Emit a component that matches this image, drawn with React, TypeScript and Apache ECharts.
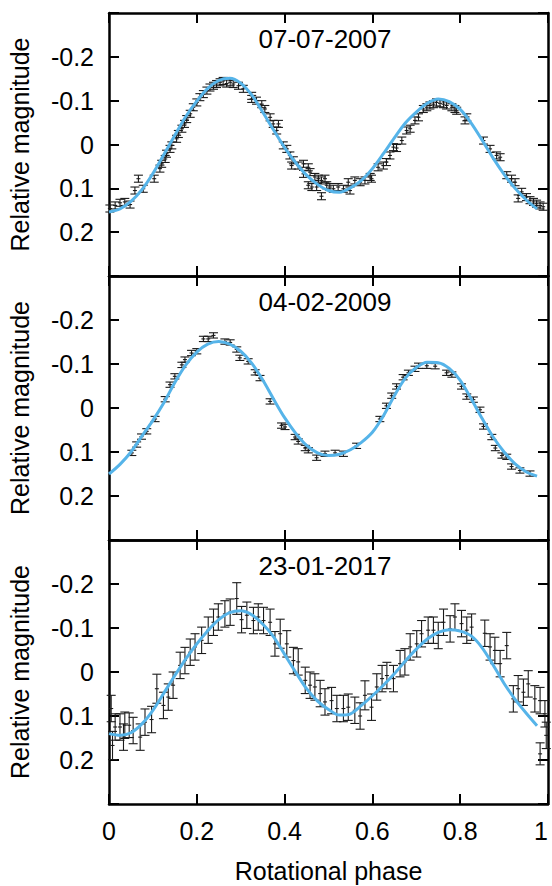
import React, { useEffect, useRef } from "react";
import * as echarts from "echarts";

const TITLES = ["07-07-2007", "04-02-2009", "23-01-2017"];
const X_LABEL = "Rotational phase";
const Y_LABEL = "Relative magnitude";

// Panel 1 observations [phase, mag]
const obs2007: number[][] = [
  [0.002, 0.146], [0.014, 0.139], [0.025, 0.133], [0.036, 0.131], [0.048, 0.137], [0.059, 0.105],
  [0.067, 0.078], [0.078, 0.101], [0.103, 0.078], [0.116, 0.055], [0.12, 0.044], [0.128, 0.033],
  [0.131, 0.021], [0.139, 0.01], [0.143, 0.002], [0.154, -0.013], [0.158, -0.024], [0.166, -0.036],
  [0.172, -0.047], [0.177, -0.058], [0.185, -0.07], [0.192, -0.085], [0.2, -0.096], [0.207, -0.108],
  [0.215, -0.115], [0.223, -0.123], [0.23, -0.13], [0.238, -0.134], [0.245, -0.138], [0.253, -0.142],
  [0.26, -0.145], [0.268, -0.139], [0.276, -0.142], [0.283, -0.138], [0.295, -0.134], [0.306, -0.127],
  [0.325, -0.104], [0.325, -0.111], [0.336, -0.1], [0.348, -0.092], [0.355, -0.081], [0.367, -0.062],
  [0.374, -0.047], [0.386, -0.047], [0.382, -0.032], [0.397, 0.002], [0.405, 0.01], [0.412, 0.025],
  [0.42, 0.036], [0.416, 0.048], [0.431, 0.048], [0.443, 0.044], [0.454, 0.052], [0.443, 0.067],
  [0.458, 0.063], [0.469, 0.074], [0.477, 0.078], [0.484, 0.082], [0.492, 0.078], [0.454, 0.093],
  [0.462, 0.097], [0.473, 0.097], [0.484, 0.118], [0.496, 0.093], [0.503, 0.097], [0.511, 0.101],
  [0.522, 0.097], [0.534, 0.101], [0.545, 0.086], [0.549, 0.105], [0.56, 0.082], [0.572, 0.086],
  [0.583, 0.082], [0.595, 0.074], [0.598, 0.078], [0.613, 0.052], [0.625, 0.048], [0.632, 0.04],
  [0.64, 0.025], [0.648, 0.006], [0.655, 0.008], [0.667, -0.009], [0.678, -0.032], [0.686, -0.036],
  [0.697, -0.055], [0.705, -0.062], [0.716, -0.081], [0.724, -0.085], [0.731, -0.089], [0.739, -0.092],
  [0.746, -0.096], [0.754, -0.094], [0.762, -0.092], [0.769, -0.089], [0.781, -0.085], [0.788, -0.081],
  [0.792, -0.077], [0.815, -0.062], [0.811, -0.055], [0.853, -0.009], [0.868, 0.01], [0.883, 0.025],
  [0.891, 0.029], [0.906, 0.07], [0.917, 0.078], [0.925, 0.086], [0.932, 0.123], [0.94, 0.108],
  [0.951, 0.12], [0.959, 0.127], [0.967, 0.131], [0.974, 0.135], [0.982, 0.139], [0.989, 0.142],
];
const err2007 = 0.008;

// Panel 2 observations [phase, mag]
const obs2009: number[][] = [
  [0.052, 0.102], [0.063, 0.083], [0.074, 0.065], [0.086, 0.053], [0.105, 0.025], [0.128, -0.02],
  [0.139, -0.053], [0.15, -0.072], [0.166, -0.098], [0.173, -0.11], [0.188, -0.125], [0.2, -0.129],
  [0.215, -0.157], [0.226, -0.157], [0.238, -0.165], [0.264, -0.151], [0.276, -0.149], [0.291, -0.133],
  [0.298, -0.114], [0.317, -0.106], [0.333, -0.081], [0.344, -0.068], [0.367, -0.015], [0.393, 0.04],
  [0.401, 0.043], [0.424, 0.066], [0.431, 0.076], [0.447, 0.091], [0.454, 0.096], [0.473, 0.113],
  [0.492, 0.104], [0.515, 0.102], [0.534, 0.104], [0.564, 0.086], [0.617, 0.025], [0.632, -0.005],
  [0.644, -0.028], [0.655, -0.049], [0.67, -0.07], [0.682, -0.08], [0.697, -0.089], [0.705, -0.096],
  [0.724, -0.096], [0.743, -0.095], [0.769, -0.08], [0.781, -0.076], [0.803, -0.049], [0.815, -0.026],
  [0.83, -0.019], [0.845, 0.004], [0.853, 0.042], [0.872, 0.066], [0.88, 0.091], [0.895, 0.108],
  [0.906, 0.111], [0.917, 0.133], [0.936, 0.142], [0.959, 0.149],
];
const err2009 = 0.006;

// Panel 3 observations [phase, mag, error]
const obs2017: number[][] = [
  [0.005, 0.083, 0.03], [0.008, 0.167, 0.032], [0.014, 0.125, 0.03], [0.025, 0.125, 0.03],
  [0.033, 0.148, 0.03], [0.036, 0.121, 0.03], [0.046, 0.121, 0.028], [0.055, 0.133, 0.03],
  [0.071, 0.148, 0.03], [0.082, 0.114, 0.03], [0.097, 0.108, 0.03], [0.109, 0.038, 0.033],
  [0.124, 0.076, 0.03], [0.135, 0.057, 0.03], [0.146, 0.03, 0.03], [0.162, -0.015, 0.03],
  [0.173, -0.026, 0.03], [0.185, -0.045, 0.03], [0.196, -0.057, 0.03], [0.211, -0.072, 0.03],
  [0.226, -0.095, 0.03], [0.238, -0.113, 0.03], [0.249, -0.125, 0.03], [0.264, -0.132, 0.03],
  [0.276, -0.136, 0.03], [0.291, -0.167, 0.036], [0.302, -0.119, 0.03], [0.314, -0.129, 0.03],
  [0.329, -0.117, 0.03], [0.34, -0.125, 0.03], [0.352, -0.117, 0.03], [0.367, -0.113, 0.03],
  [0.378, -0.064, 0.028], [0.39, -0.087, 0.033], [0.405, -0.064, 0.03], [0.42, -0.026, 0.03],
  [0.431, -0.023, 0.03], [0.447, 0.019, 0.03], [0.458, 0.03, 0.03], [0.469, 0.034, 0.03],
  [0.481, 0.049, 0.03], [0.492, 0.068, 0.03], [0.507, 0.065, 0.03], [0.519, 0.083, 0.03],
  [0.534, 0.083, 0.03], [0.545, 0.08, 0.03], [0.56, 0.087, 0.03], [0.572, 0.1, 0.03],
  [0.583, 0.053, 0.033], [0.598, 0.08, 0.03], [0.61, 0.034, 0.03], [0.622, 0.015, 0.03],
  [0.633, 0.008, 0.03], [0.648, 0.015, 0.03], [0.663, -0.019, 0.03], [0.674, -0.023, 0.03],
  [0.686, -0.057, 0.03], [0.701, -0.064, 0.03], [0.712, -0.087, 0.03], [0.727, -0.095, 0.03],
  [0.739, -0.095, 0.03], [0.75, -0.083, 0.03], [0.762, -0.113, 0.03], [0.777, -0.098, 0.03],
  [0.788, -0.125, 0.03], [0.803, -0.11, 0.03], [0.815, -0.095, 0.03], [0.826, -0.102, 0.03],
  [0.856, -0.088, 0.03], [0.868, -0.057, 0.03], [0.879, -0.049, 0.03], [0.891, -0.019, 0.03],
  [0.906, -0.06, 0.03], [0.921, 0.061, 0.03], [0.932, 0.038, 0.03], [0.944, 0.046, 0.03],
  [0.955, 0.027, 0.03], [0.97, 0.061, 0.03], [0.982, 0.065, 0.03], [0.993, 0.095, 0.03],
  [0.996, 0.144, 0.03], [0.982, 0.186, 0.025],
];

// Fitted curves, sampled every 0.025 in phase
const fit2007: number[] = [
  0.154, 0.147, 0.13, 0.103, 0.066, 0.023, -0.021, -0.064, -0.099, -0.128, -0.146, -0.151, -0.14,
  -0.113, -0.074, -0.033, 0.007, 0.041, 0.07, 0.091, 0.105, 0.109, 0.099, 0.082, 0.055, 0.021,
  -0.015, -0.049, -0.074, -0.094, -0.104, -0.098, -0.08, -0.049, -0.01, 0.031, 0.068, 0.1, 0.126,
  0.147,
];
const fit2009: number[] = [
  0.15, 0.128, 0.1, 0.064, 0.028, -0.012, -0.058, -0.098, -0.127, -0.145, -0.151, -0.145, -0.129,
  -0.102, -0.064, -0.02, 0.022, 0.057, 0.085, 0.102, 0.108, 0.105, 0.095, 0.078, 0.055, 0.018,
  -0.028, -0.068, -0.092, -0.104, -0.103, -0.09, -0.063, -0.021, 0.024, 0.066, 0.1, 0.127, 0.145,
  0.155,
];
const fit2017: number[] = [
  0.14, 0.144, 0.138, 0.118, 0.087, 0.048, 0.008, -0.03, -0.064, -0.094, -0.119, -0.135, -0.139,
  -0.13, -0.109, -0.08, -0.04, 0.0, 0.038, 0.066, 0.085, 0.098, 0.095, 0.076, 0.054, 0.03, 0.004,
  -0.025, -0.052, -0.075, -0.09, -0.096, -0.093, -0.082, -0.055, -0.016, 0.026, 0.062, 0.093,
  0.122,
];
const FIT_STEP = 0.025;

const FONT = "Liberation Sans";
const GRID_TOPS = [13, 276, 540];
const GRID_H = [263, 264, 264];
const GRID_LEFT = 109;
const GRID_W = 439;

function errRender(capHalf: number) {
  return (params: any, api: any) => {
    const x = api.value(0);
    const y = api.value(1);
    const e = api.value(2);
    const a = api.coord([x, y - e]);
    const b = api.coord([x, y + e]);
    const m = api.coord([x, y]);
    const style = { stroke: "#1a1a1a", lineWidth: 1.1 };
    return {
      type: "group",
      children: [
        { type: "line", shape: { x1: a[0], y1: a[1], x2: b[0], y2: b[1] }, style },
        { type: "line", shape: { x1: a[0] - capHalf, y1: a[1], x2: a[0] + capHalf, y2: a[1] }, style },
        { type: "line", shape: { x1: b[0] - capHalf, y1: b[1], x2: b[0] + capHalf, y2: b[1] }, style },
        { type: "line", shape: { x1: m[0] - 2, y1: m[1], x2: m[0] + 2, y2: m[1] }, style },
      ],
    };
  };
}

export default function App() {
  const ref = useRef<HTMLDivElement>(null);
  useEffect(() => {
    if (!ref.current) return;
    const chart = echarts.init(ref.current, null, { renderer: "svg" });
    const toPairs = (vals: number[]) =>
      vals.map((v, k) => [Math.min(0.98, Math.round(k * FIT_STEP * 1000) / 1000), v]);
    const panels = [
      { obs: obs2007.map((d) => [d[0], d[1], err2007]), fit: toPairs(fit2007) },
      { obs: obs2009.map((d) => [d[0], d[1], err2009]), fit: toPairs(fit2009) },
      { obs: obs2017, fit: toPairs(fit2017) },
    ];
    const axisLine = { show: true, onZero: false, lineStyle: { color: "#000", width: 2.5 } };
    const axisTick = { show: true, inside: true, length: 10, lineStyle: { color: "#000", width: 2 } };
    const grid: any[] = [];
    const xAxis: any[] = [];
    const yAxis: any[] = [];
    const series: any[] = [];
    const graphic: any[] = [];
    panels.forEach((p, i) => {
      grid.push({
        left: GRID_LEFT, width: GRID_W, top: GRID_TOPS[i], height: GRID_H[i],
        containLabel: false, outerBoundsMode: "none",
      });
      xAxis.push({
        gridIndex: i, type: "value", min: 0, max: 1, interval: 0.2, position: "bottom",
        axisLine, axisTick, splitLine: { show: false },
        axisLabel: {
          show: i === 2, color: "#000", fontFamily: FONT, fontSize: 25, margin: 14,
          alignMaxLabel: "right",
          formatter: (v: number) => String(Math.round(v * 10) / 10),
        },
        name: i === 2 ? X_LABEL : "", nameLocation: "middle", nameGap: 54,
        nameTextStyle: { color: "#000", fontFamily: FONT, fontSize: 25 },
      });
      xAxis.push({
        gridIndex: i, type: "value", min: 0, max: 1, interval: 0.2, position: "top",
        axisLine, axisTick, splitLine: { show: false }, axisLabel: { show: false },
      });
      yAxis.push({
        gridIndex: i, type: "value", inverse: true, min: -0.3, max: 0.3, interval: 0.1,
        position: "left", axisLine, axisTick, splitLine: { show: false },
        axisLabel: {
          color: "#000", fontFamily: FONT, fontSize: 25, margin: 15,
          formatter: (v: number) => {
            const r = Math.round(v * 10) / 10;
            if (Math.abs(r) > 0.25) return "";
            return r === 0 ? "0" : String(r);
          },
        },
        name: Y_LABEL, nameLocation: "middle", nameGap: 77, nameRotate: 90,
        nameTextStyle: { color: "#000", fontFamily: FONT, fontSize: 25 },
      });
      yAxis.push({
        gridIndex: i, type: "value", inverse: true, min: -0.3, max: 0.3, interval: 0.1,
        position: "right", axisLine, axisTick, splitLine: { show: false }, axisLabel: { show: false },
      });
      series.push({
        type: "custom", xAxisIndex: 2 * i, yAxisIndex: 2 * i,
        renderItem: errRender(4.5), data: p.obs, encode: { x: 0, y: 1 }, z: 2,
      });
      series.push({
        type: "line", xAxisIndex: 2 * i, yAxisIndex: 2 * i, data: p.fit, smooth: 0.3,
        showSymbol: false, symbol: "none", lineStyle: { color: "#56B4E9", width: 3 }, z: 3,
      });
      graphic.push({
        type: "text", left: GRID_LEFT + GRID_W / 2 - 70, top: GRID_TOPS[i] + 13,
        style: { text: TITLES[i], fontFamily: FONT, fontSize: 26, fill: "#000", width: 140, align: "center" },
      });
    });
    chart.setOption({
      animation: false,
      backgroundColor: "#fff",
      grid, xAxis, yAxis, series, graphic,
    });
    return () => chart.dispose();
  }, []);
  return (
    <div
      ref={ref}
      style={{ position: "absolute", left: 0, top: 0, width: 552, height: 886, background: "#fff" }}
    />
  );
}
